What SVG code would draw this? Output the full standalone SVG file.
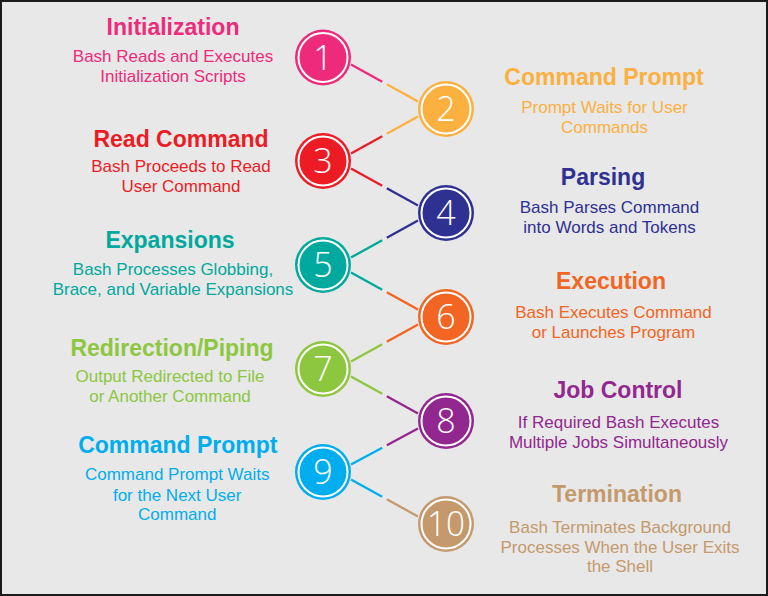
<svg xmlns="http://www.w3.org/2000/svg" width="768" height="596" viewBox="0 0 768 596">
<style>
.t{font-family:"Liberation Sans",Arial,sans-serif;font-weight:bold;font-size:23px;text-anchor:middle}
.b{font-family:"Liberation Sans",Arial,sans-serif;font-size:17px;text-anchor:middle}
.n{font-family:"Open Sans","Noto Sans",sans-serif;font-weight:300;font-size:34px;fill:#fff;text-anchor:middle}
.ring{fill:none;stroke:#fff;stroke-width:2}
.c line{stroke-width:2.3;fill:none}
</style>
<rect x="1" y="1" width="766" height="594" fill="#e8e8e8" stroke="#1a1a1a" stroke-width="2"/>
<g id="connectors" class="c">
<line x1="351" y1="64.5" x2="382.2" y2="81.7" stroke="#ee2a7b"/>
<line x1="386.8" y1="84.3" x2="418" y2="101.5" stroke="#fbb040"/>
<line x1="351" y1="153.5" x2="382.2" y2="136.3" stroke="#ed1c24"/>
<line x1="386.8" y1="133.7" x2="418" y2="116.5" stroke="#fbb040"/>
<line x1="351" y1="168.5" x2="382.2" y2="185.7" stroke="#ed1c24"/>
<line x1="386.8" y1="188.3" x2="418" y2="205.5" stroke="#2e3192"/>
<line x1="351" y1="257.5" x2="382.2" y2="240.3" stroke="#00a99d"/>
<line x1="386.8" y1="237.7" x2="418" y2="220.5" stroke="#2e3192"/>
<line x1="351" y1="272.5" x2="382.2" y2="289.7" stroke="#00a99d"/>
<line x1="386.8" y1="292.3" x2="418" y2="309.5" stroke="#f26522"/>
<line x1="351" y1="361.5" x2="382.2" y2="344.3" stroke="#8dc63f"/>
<line x1="386.8" y1="341.7" x2="418" y2="324.5" stroke="#f26522"/>
<line x1="351" y1="376.5" x2="382.2" y2="393.7" stroke="#8dc63f"/>
<line x1="386.8" y1="396.3" x2="418" y2="413.5" stroke="#92278f"/>
<line x1="351" y1="464.5" x2="382.2" y2="447.7" stroke="#00aeef"/>
<line x1="386.8" y1="445.2" x2="418" y2="428.5" stroke="#92278f"/>
<line x1="351" y1="479.5" x2="382.2" y2="496.7" stroke="#00aeef"/>
<line x1="386.8" y1="499.3" x2="418" y2="516.5" stroke="#c49a6c"/>
</g>
<g id="node1" fill="#ee2a7b">
<circle cx="323" cy="57.5" r="28"/><circle class="ring" cx="323" cy="57.5" r="24.5"/>
<text class="n" x="323" y="69.5">1</text>
<text class="t" x="173" y="35">Initialization</text>
<text class="b" x="173" y="61.7">Bash Reads and Executes</text>
<text class="b" x="173" y="81.7">Initialization Scripts</text>
</g>
<g id="node2" fill="#fbb040">
<circle cx="446" cy="109" r="28"/><circle class="ring" cx="446" cy="109" r="24.5"/>
<text class="n" x="446" y="121">2</text>
<text class="t" x="604" y="85">Command Prompt</text>
<text class="b" x="604.5" y="113.3">Prompt Waits for User</text>
<text class="b" x="604.5" y="133">Commands</text>
</g>
<g id="node3" fill="#ed1c24">
<circle cx="323" cy="161" r="28"/><circle class="ring" cx="323" cy="161" r="24.5"/>
<text class="n" x="323" y="173">3</text>
<text class="t" x="181" y="146.7">Read Command</text>
<text class="b" x="181" y="172.3">Bash Proceeds to Read</text>
<text class="b" x="181" y="192.3">User Command</text>
</g>
<g id="node4" fill="#2e3192">
<circle cx="446" cy="213" r="28"/><circle class="ring" cx="446" cy="213" r="24.5"/>
<text class="n" x="446" y="225">4</text>
<text class="t" x="603" y="185">Parsing</text>
<text class="b" x="609.5" y="213.3">Bash Parses Command</text>
<text class="b" x="609.5" y="233">into Words and Tokens</text>
</g>
<g id="node5" fill="#00a99d">
<circle cx="323" cy="265" r="28"/><circle class="ring" cx="323" cy="265" r="24.5"/>
<text class="n" x="323" y="277">5</text>
<text class="t" x="170" y="248.3">Expansions</text>
<text class="b" x="173" y="275">Bash Processes Globbing,</text>
<text class="b" x="173" y="295">Brace, and Variable Expansions</text>
</g>
<g id="node6" fill="#f26522">
<circle cx="446" cy="317" r="28"/><circle class="ring" cx="446" cy="317" r="24.5"/>
<text class="n" x="446" y="329">6</text>
<text class="t" x="611" y="289.3">Execution</text>
<text class="b" x="613.5" y="317.7">Bash Executes Command</text>
<text class="b" x="613.5" y="337.7">or Launches Program</text>
</g>
<g id="node7" fill="#8dc63f">
<circle cx="323" cy="369" r="28"/><circle class="ring" cx="323" cy="369" r="24.5"/>
<text class="n" x="323" y="381">7</text>
<text class="t" x="172" y="355.7">Redirection/Piping</text>
<text class="b" x="170" y="381.7">Output Redirected to File</text>
<text class="b" x="170" y="401.7">or Another Command</text>
</g>
<g id="node8" fill="#92278f">
<circle cx="446" cy="421" r="28"/><circle class="ring" cx="446" cy="421" r="24.5"/>
<text class="n" x="446" y="433">8</text>
<text class="t" x="618" y="398.3">Job Control</text>
<text class="b" x="618.5" y="428.3">If Required Bash Executes</text>
<text class="b" x="618.5" y="448.3">Multiple Jobs Simultaneously</text>
</g>
<g id="node9" fill="#00aeef">
<circle cx="323" cy="472" r="28"/><circle class="ring" cx="323" cy="472" r="24.5"/>
<text class="n" x="323" y="484">9</text>
<text class="t" x="177.8" y="453.3">Command Prompt</text>
<text class="b" x="177.2" y="480">Command Prompt Waits</text>
<text class="b" x="177.2" y="500.5">for the Next User</text>
<text class="b" x="177.2" y="520">Command</text>
</g>
<g id="node10" fill="#c49a6c">
<circle cx="446" cy="524" r="28"/><circle class="ring" cx="446" cy="524" r="24.5"/>
<text class="n" x="446" y="536" textLength="38" lengthAdjust="spacingAndGlyphs">10</text>
<text class="t" x="617" y="502.3">Termination</text>
<text class="b" x="620" y="532.7">Bash Terminates Background</text>
<text class="b" x="620" y="552.7">Processes When the User Exits</text>
<text class="b" x="620" y="571.7">the Shell</text>
</g>
</svg>
